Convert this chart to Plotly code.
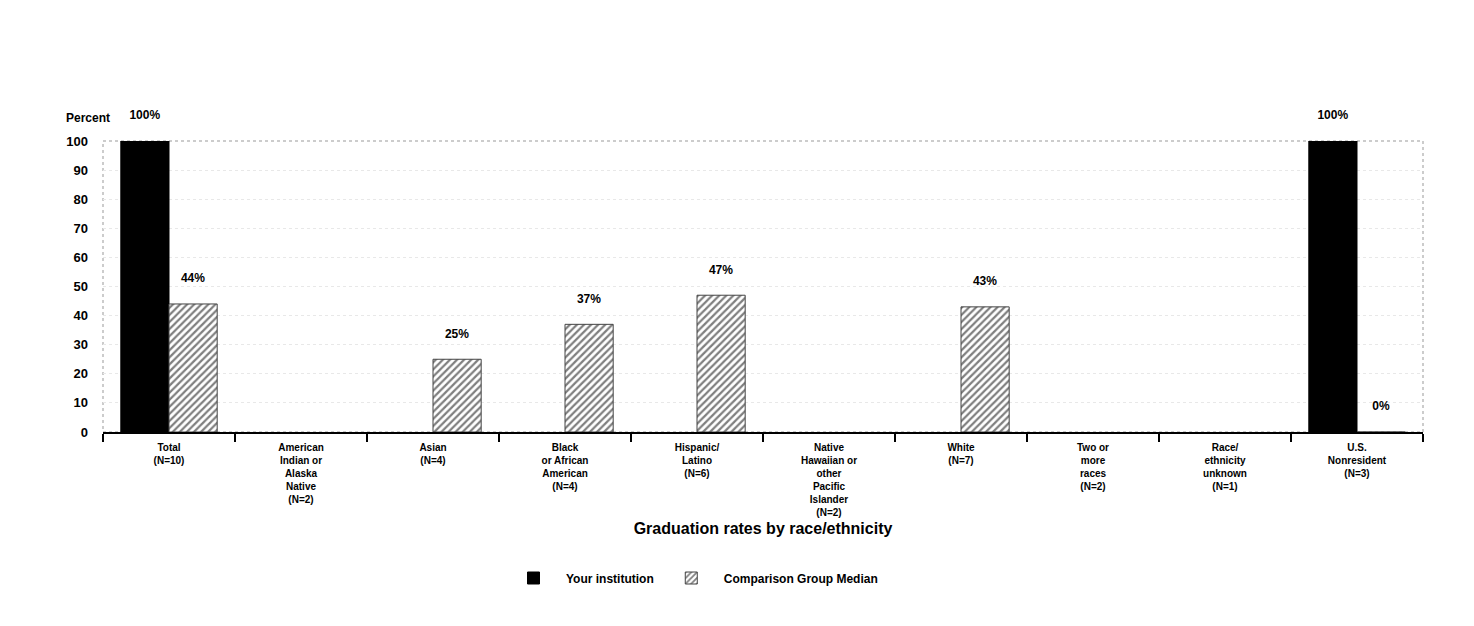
import plotly.graph_objects as go

categories = [
    "Total<br>(N=10)",
    "American<br>Indian or<br>Alaska<br>Native<br>(N=2)",
    "Asian<br>(N=4)",
    "Black<br>or African<br>American<br>(N=4)",
    "Hispanic/<br>Latino<br>(N=6)",
    "Native<br>Hawaiian or<br>other<br>Pacific<br>Islander<br>(N=2)",
    "White<br>(N=7)",
    "Two or<br>more<br>races<br>(N=2)",
    "Race/<br>ethnicity<br>unknown<br>(N=1)",
    "U.S.<br>Nonresident<br>(N=3)",
]
your_institution = [100, None, None, None, None, None, None, None, None, 100]
comparison_median = [44, None, 25, 37, 47, None, 43, None, None, 0]

FONT = "Liberation Sans"

def labels(vals):
    return [f"{v}%<br> " if v is not None else "" for v in vals]

fig = go.Figure()
fig.add_trace(go.Bar(
    x=categories, y=your_institution, name="Your institution",
    marker=dict(color="black", line=dict(color="black", width=1)),
    text=labels(your_institution), textposition="outside",
    textfont=dict(family=FONT, size=12, color="black", weight="bold"),
    cliponaxis=False,
))
fig.add_trace(go.Bar(
    x=categories, y=comparison_median, name="Comparison Group Median",
    marker=dict(color="white", line=dict(color="#444", width=1),
                pattern=dict(shape="/", fgcolor="black", bgcolor="white", size=5, solidity=0.45)),
    text=labels(comparison_median), textposition="outside",
    textfont=dict(family=FONT, size=12, color="black", weight="bold"),
    cliponaxis=False,
))

L, T, R, B = 95, 133, 59, 202
W, H = 1474, 626
plot_w = W - L - R
plot_h = H - T - B

fig.update_layout(
    width=W, height=H,
    paper_bgcolor="white", plot_bgcolor="white",
    barmode="group", bargap=0.27, bargroupgap=0,
    margin=dict(l=L, r=R, t=T, b=B),
    font=dict(family=FONT, size=11, color="black"),
    showlegend=True,
    legend=dict(orientation="h", x=(684 - L) / plot_w, xanchor="center",
                y=-(570 - (H - B)) / plot_h, yanchor="middle",
                font=dict(family=FONT, size=12, color="black", weight="bold"),
                itemwidth=55, traceorder="normal"),
    xaxis=dict(
        showline=True, linecolor="black", linewidth=2,
        ticks="outside", tickson="boundaries", ticklen=8, tickcolor="black", tickwidth=1.5,
        tickfont=dict(family=FONT, size=10, color="black", weight="bold"),
        tickangle=0, ticklabelstandoff=5,
        title=dict(text="Graduation rates by race/ethnicity",
                   font=dict(family=FONT, size=16, color="black", weight="bold"),
                   standoff=6),
        showgrid=False,
    ),
    yaxis=dict(
        range=[0, 100], dtick=10, showgrid=True, gridcolor="#e8e8e8", griddash="dot",
        zeroline=False, showline=False,
        tickfont=dict(family=FONT, size=13, color="black", weight="bold"),
        ticklabelstandoff=14,
    ),
    shapes=[dict(type="rect", xref="paper", yref="paper", x0=0, x1=1, y0=0, y1=1,
                 line=dict(color="#999", width=1, dash="dot"), layer="below")],
    annotations=[dict(text="Percent", x=(80 - L) / plot_w, y=((H - B) - 110) / plot_h,
                      xref="paper", yref="paper", xanchor="center", yanchor="middle",
                      showarrow=False,
                      font=dict(family=FONT, size=12, color="black", weight="bold"))],
)

fig.write_html("out.html")
